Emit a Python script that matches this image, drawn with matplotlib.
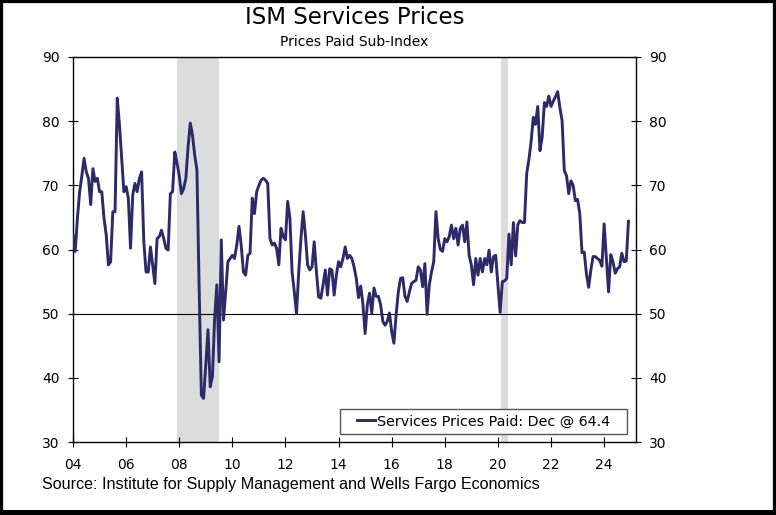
import numpy as np
import matplotlib
matplotlib.use('Agg')
import matplotlib.pyplot as plt
from matplotlib.patches import Rectangle

# ISM services prices paid, monthly, Jan 2004 - Dec 2024
p_2004_2007 = [62.3, 59.7, 64.9, 69.0, 71.5, 74.2, 72.1, 71.1, 67.0, 72.6, 70.6, 71.1,
               69.0, 69.0, 64.9, 62.3, 57.6, 58.1, 65.9, 65.9, 83.6, 79.4, 74.2, 69.0,
               69.8, 68.0, 60.2, 68.5, 70.3, 69.0, 71.1, 72.1, 61.2, 56.5, 56.5, 60.4,
               57.6, 54.7, 61.7, 62.0, 63.0, 61.7, 60.2, 59.9, 68.7, 69.0, 75.2, 73.5]
p_2008_2011 = [71.5, 68.7, 69.5, 71.1, 76.0, 79.7, 77.8, 74.7, 72.4, 54.0, 37.3, 36.8,
               42.0, 47.5, 38.6, 40.2, 49.3, 54.5, 42.5, 61.5, 49.0, 53.4, 58.1, 58.6,
               59.1, 58.6, 60.7, 63.6, 60.7, 56.5, 56.0, 59.1, 59.4, 68.0, 65.6, 69.0,
               70.0, 70.8, 71.1, 70.8, 70.3, 61.7, 60.7, 61.0, 60.2, 57.6, 63.3, 62.0]
p_2012_2015 = [61.5, 67.5, 64.9, 56.5, 53.4, 50.0, 56.5, 61.7, 65.9, 62.3, 57.6, 56.8,
               57.3, 61.2, 56.5, 52.6, 52.4, 54.5, 56.8, 52.9, 57.0, 56.8, 52.9, 56.0,
               58.1, 57.3, 58.6, 60.4, 58.6, 59.1, 58.6, 57.3, 55.5, 52.5, 54.3, 51.5,
               46.9, 51.4, 53.2, 50.1, 54.0, 52.7, 52.7, 51.4, 48.8, 48.2, 48.8, 50.1]
p_2016_2019 = [47.2, 45.4, 49.8, 53.4, 55.5, 55.6, 52.7, 51.9, 53.4, 54.7, 55.0, 55.2,
               57.3, 56.8, 54.2, 57.8, 49.9, 54.5, 56.5, 58.1, 65.9, 61.7, 60.0, 59.7,
               61.7, 61.2, 62.0, 63.8, 61.7, 63.3, 60.7, 63.3, 63.8, 61.2, 64.3, 59.1,
               57.6, 54.5, 58.6, 56.0, 58.6, 56.5, 58.6, 57.6, 59.9, 56.5, 58.9, 59.1]
p_2020_2024 = [54.5, 50.2, 55.0, 55.1, 55.5, 62.4, 57.6, 64.2, 59.0, 63.9, 64.5, 64.2,
               64.2, 71.8, 74.0, 76.8, 80.6, 79.5, 82.3, 75.4, 77.5, 82.9, 82.3, 83.9,
               82.3, 83.1, 83.8, 84.6, 82.1, 80.1, 72.3, 71.5, 68.7, 70.7, 70.0, 67.6,
               67.8, 65.6, 59.5, 59.6, 56.2, 54.1, 56.8, 58.9, 58.9, 58.6, 58.3, 57.4,
               64.0, 58.6, 53.4, 59.2, 58.1, 56.3, 57.0, 57.3, 59.4, 58.1, 58.2, 64.4]

recessions = [(2007.917, 2009.5), (2020.13, 2020.37)]
x_ticks = list(range(2004, 2025, 2))
x_labels = ['04', '06', '08', '10', '12', '14', '16', '18', '20', '22', '24']
y_ticks = [30, 40, 50, 60, 70, 80, 90]

prices = np.array(p_2004_2007 + p_2008_2011 + p_2012_2015 + p_2016_2019 + p_2020_2024)
t = 2004 + np.arange(len(prices)) / 12.0

line_col = '#2e2a6a'

fig = plt.figure(figsize=(7.76, 5.15), dpi=100)
ax = fig.add_axes([73/776, 1 - 442/515, (636 - 73)/776, (442 - 57)/515])

for a, b in recessions:
    ax.axvspan(a, b, color='#dcdcdc', lw=0, zorder=0)
ax.axhline(50, color='black', lw=0.8, zorder=1)

ax.plot(t, prices, color=line_col, lw=2.1, zorder=3,
        label='Services Prices Paid: Dec @ 64.4')

ax.set_xlim(2004, 2025.2)
ax.set_ylim(30, 90)
ax.set_xticks(x_ticks)
ax.set_xticklabels(x_labels)
ax.set_yticks(y_ticks)
ax.tick_params(axis='both', direction='inout', length=7, width=0.8,
               labelsize=10, color='black')
ax.tick_params(axis='x', pad=8)
ax.tick_params(axis='y', right=True, labelright=True, pad=6)
for s in ax.spines.values():
    s.set_linewidth(1.0)

# legend box drawn by hand, wider padding at the sides than top/bottom
box_l, box_r = (340 - 73)/563, (627 - 73)/563
box_b, box_t = (442 - 434)/385, (442 - 409)/385
ax.add_patch(Rectangle((box_l, box_b), box_r - box_l, box_t - box_b,
                       transform=ax.transAxes, fc='white', ec='#555555',
                       lw=1.0, zorder=4))
leg = ax.legend(loc='center', bbox_to_anchor=((box_l + box_r)/2, (box_b + box_t)/2),
                frameon=False, fontsize=10.3, handlelength=1.25,
                handletextpad=0.1, borderpad=0.0, borderaxespad=0.0)
leg.set_zorder(5)

fig.text(354.5/776, 1 - 18/515, 'ISM Services Prices', ha='center', va='center',
         fontsize=16.5)
fig.text(354.5/776, 1 - 42/515, 'Prices Paid Sub-Index', ha='center', va='center',
         fontsize=10)
fig.text(42/776, 1 - 484/515,
         'Source: Institute for Supply Management and Wells Fargo Economics',
         ha='left', va='center', fontsize=11.6, family='Liberation Sans')

# black frame round the whole picture
fig.patches.append(Rectangle((0, 0), 1, 1, transform=fig.transFigure,
                             fill=False, ec='black', lw=4.5))
fig.patches.append(Rectangle((0, 0), 1, 5/515, transform=fig.transFigure,
                             fc='black', ec='none'))

fig.savefig('out.png', dpi=100)
